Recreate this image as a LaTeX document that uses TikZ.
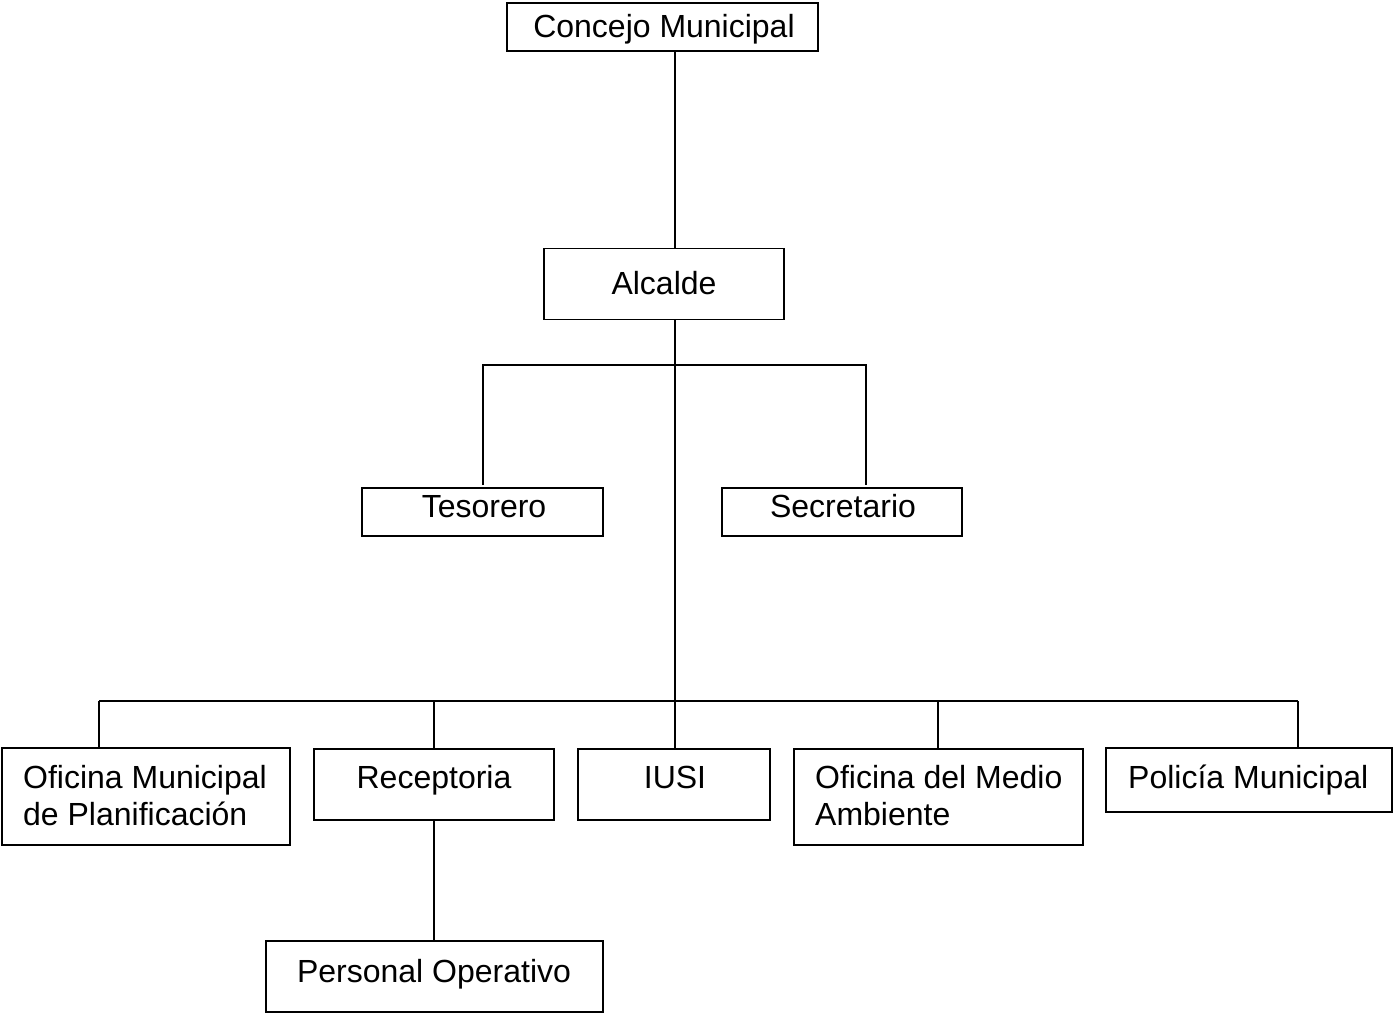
\documentclass[tikz,border=0pt]{standalone}
\usepackage{fontspec}
\setmainfont{Liberation Sans}
\begin{document}
\begin{tikzpicture}[x=1pt,y=-1pt,
  box/.style={draw,line width=1.6pt,inner sep=0pt,rectangle},
  txt/.style={inner sep=0pt,anchor=base,font=\fontsize{32}{37}\selectfont},
  txtl/.style={txt,anchor=base west},
  conn/.style={line width=1.6pt}]
\useasboundingbox (0,0) rectangle (1393,1013);
% boxes
\node[box,minimum width=311pt,minimum height=48pt] (cm) at (662.5,27) {};
\node[box,minimum width=240pt,minimum height=71pt] (alc) at (664,284) {};
\node[box,minimum width=241pt,minimum height=48pt] (tes) at (482.5,512) {};
\node[box,minimum width=240pt,minimum height=48pt] (sec) at (842,512) {};
\node[box,minimum width=288pt,minimum height=97pt] (omp) at (146,796.5) {};
\node[box,minimum width=240pt,minimum height=71pt] (rec) at (434,784.5) {};
\node[box,minimum width=192pt,minimum height=71pt] (iusi) at (674,784.5) {};
\node[box,minimum width=289pt,minimum height=96pt] (oma) at (938.5,797) {};
\node[box,minimum width=286pt,minimum height=64pt] (pol) at (1249,780) {};
\node[box,minimum width=337pt,minimum height=71pt] (po) at (434.5,976.5) {};
% texts
\node[txt] (tcm) at (664,37) {Concejo Municipal};
\node[txt] (talc) at (664,294) {Alcalde};
\node[txt] (ttes) at (484,517) {Tesorero};
\node[txt] (tsec) at (843,517) {Secretario};
\node[txtl] (tomp1) at (23,788) {Oficina Municipal};
\node[txtl] (tomp2) at (23,825) {de Planificación};
\node[txt] (trec) at (434,788) {Receptoria};
\node[txt] (tiusi) at (675,788) {IUSI};
\node[txtl] (toma1) at (815,788) {Oficina del Medio};
\node[txtl] (toma2) at (815,825) {Ambiente};
\node[txtl] (tpol) at (1128,788) {Policía Municipal};
\node[txt] (tpo) at (434,982) {Personal Operativo};
% junction coordinates
\coordinate (j1) at (675,365);
\coordinate (j2) at (675,701);
\coordinate (dl) at (99,701);
\coordinate (dr) at (1298,701);
\coordinate (dm) at (938,701);
\coordinate (tl) at (483,485);
\coordinate (sr) at (866,485);
% connectors
\draw[conn] (cm.south -| j1) -- (alc.north -| j1);
\draw[conn] (alc.south -| j1) -- (j2);
\draw[conn] (tl) |- (j1) -| (sr);
\draw[conn] (dl) -- (dr);
\draw[conn] (dl) -- (omp.north -| dl);
\draw[conn] (rec.north |- j2) -- (rec.north);
\draw[conn] (j2) -- (iusi.north -| j2);
\draw[conn] (dm) -- (oma.north -| dm);
\draw[conn] (dr) -- (pol.north -| dr);
\draw[conn] (rec.south) -- (po.north -| rec.south);
\end{tikzpicture}
\end{document}
